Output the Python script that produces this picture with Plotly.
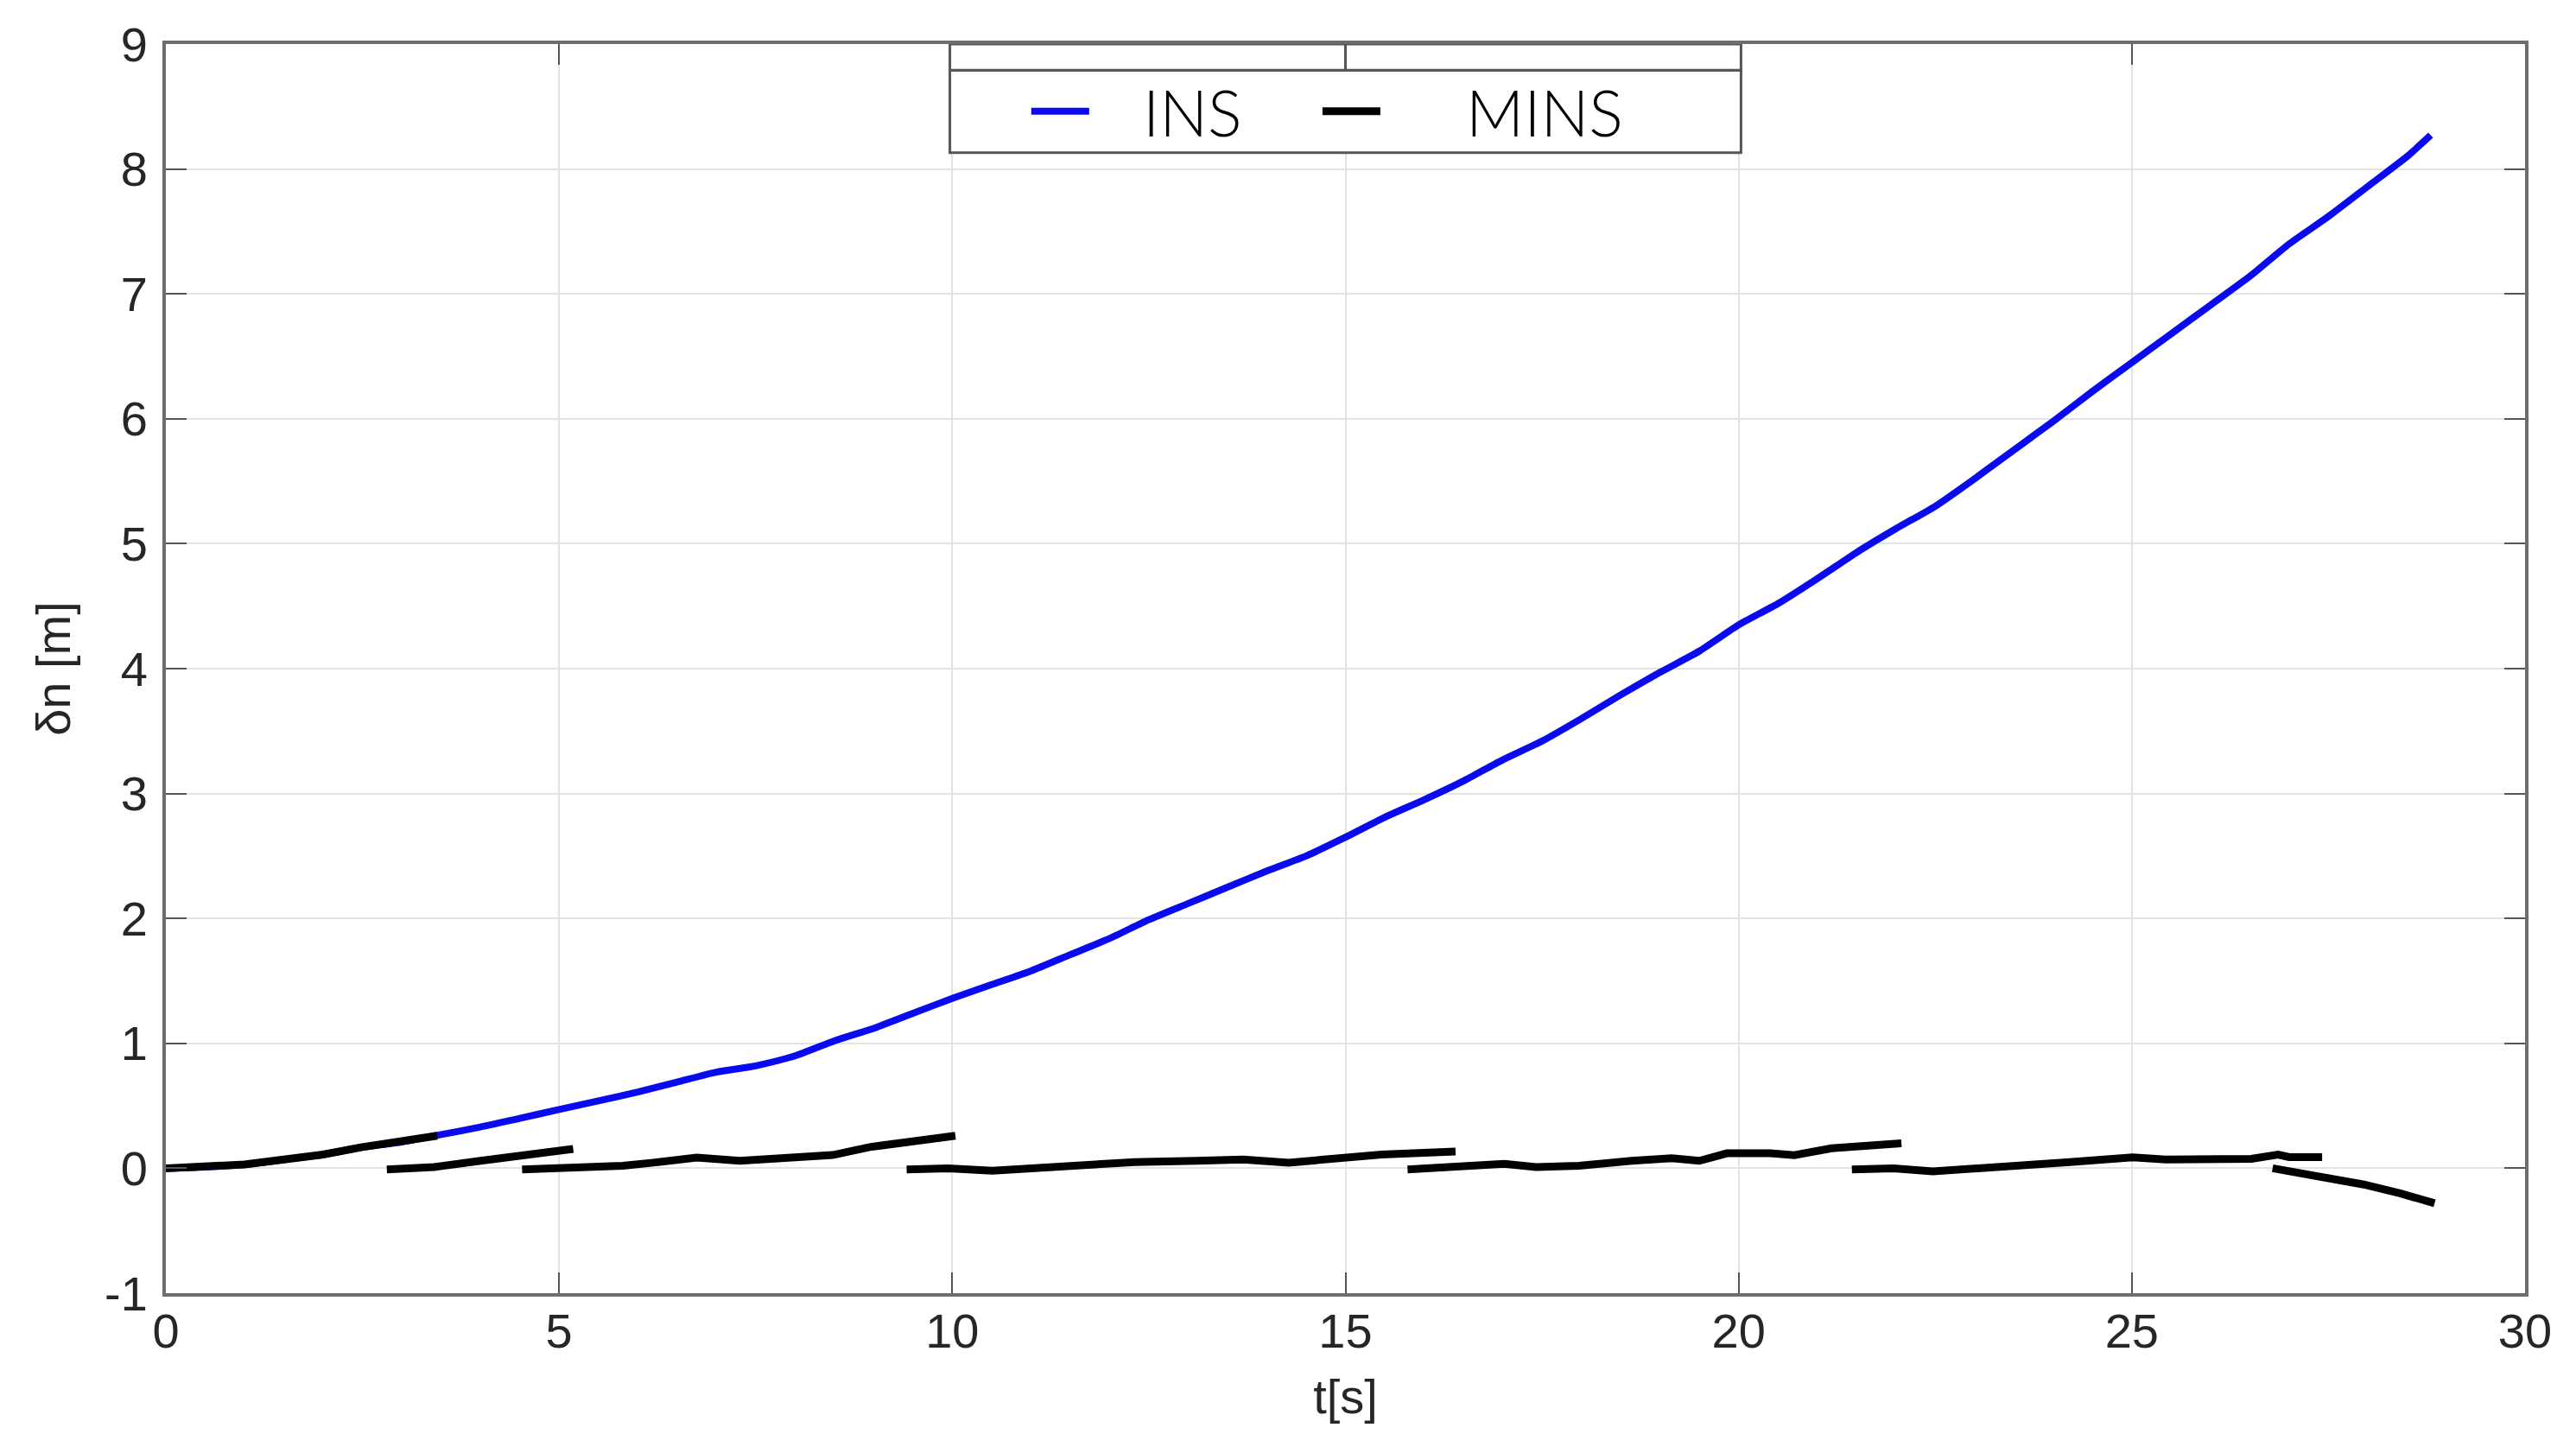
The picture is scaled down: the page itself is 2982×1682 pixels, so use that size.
import plotly.graph_objects as go

# ---------------- data ----------------
ins_t = [0, 0.5, 1, 1.5, 2, 2.5, 3, 3.5, 4, 4.5, 5, 5.5, 6, 6.5, 7, 7.5, 8, 8.5, 9, 9.5,
         10, 10.5, 11, 11.5, 12, 12.5, 13, 13.5, 14, 14.5, 15, 15.5, 16, 16.5, 17, 17.5,
         18, 18.5, 19, 19.5, 20, 20.5, 21, 21.5, 22, 22.5, 23, 23.5, 24, 24.5, 25, 25.5,
         26, 26.5, 27, 27.5, 28, 28.5, 28.8]
ins_v = [0, 0.01, 0.03, 0.07, 0.11, 0.17, 0.21, 0.27, 0.33, 0.40, 0.47, 0.54, 0.61, 0.69,
         0.77, 0.82, 0.90, 1.02, 1.12, 1.24, 1.36, 1.47, 1.58, 1.71, 1.84, 1.99, 2.12, 2.25,
         2.38, 2.50, 2.65, 2.81, 2.95, 3.10, 3.27, 3.42, 3.60, 3.79, 3.97, 4.14, 4.35, 4.52,
         4.72, 4.93, 5.12, 5.30, 5.52, 5.75, 5.98, 6.22, 6.45, 6.68, 6.91, 7.14, 7.40, 7.62,
         7.86, 8.10, 8.27]

seg1_t = [0, 0.5, 1, 1.5, 2, 2.5, 3, 3.45]
seg1_v = [0, 0.01, 0.03, 0.07, 0.11, 0.17, 0.21, 0.26]
seg2_t = [2.81, 3.41, 4.0, 4.59, 5.18]
seg2_v = [-0.01, 0.01, 0.06, 0.11, 0.155]
seg3_t = [4.53, 4.98, 5.57, 5.81, 6.2, 6.75, 7.3, 7.77, 8.48, 8.95, 9.53, 10.04]
seg3_v = [-0.01, 0.0, 0.01, 0.02, 0.045, 0.085, 0.06, 0.077, 0.106, 0.17, 0.22, 0.26]
seg4_t = [9.42, 9.95, 10.51, 11.1, 11.74, 12.32, 13.1, 13.7, 14.28, 14.87, 15.46, 16.4]
seg4_v = [-0.01, 0.0, -0.02, 0.0, 0.02, 0.05, 0.06, 0.07, 0.045, 0.08, 0.11, 0.135]
seg5_t = [15.79, 16.44, 17.02, 17.42, 17.97, 18.64, 19.15, 19.5, 19.85, 20.4, 20.71, 21.18, 22.07]
seg5_v = [-0.01, 0.01, 0.035, 0.01, 0.02, 0.06, 0.08, 0.06, 0.12, 0.12, 0.105, 0.16, 0.2]
seg6_t = [21.44, 21.97, 22.47, 23.14, 23.8, 24.21, 25.01, 25.43, 26.52, 26.86, 27.0, 27.42]
seg6_v = [-0.01, 0.0, -0.025, 0.0, 0.035, 0.05, 0.087, 0.07, 0.075, 0.11, 0.09, 0.09]
seg7_t = [26.79, 27.36, 27.95, 28.41, 28.85]
seg7_v = [0.0, -0.066, -0.13, -0.2, -0.28]

x_ticks = [0, 5, 10, 15, 20, 25, 30]
y_ticks = [-1, 0, 1, 2, 3, 4, 5, 6, 7, 8, 9]

segments = [(seg1_t, seg1_v), (seg2_t, seg2_v), (seg3_t, seg3_v), (seg4_t, seg4_v),
            (seg5_t, seg5_v), (seg6_t, seg6_v), (seg7_t, seg7_v)]
mins_t, mins_v = [], []
for st, sv in segments:
    mins_t += st + [None]
    mins_v += sv + [None]

# ---------------- figure ----------------
fig = go.Figure()
fig.add_trace(go.Scatter(x=ins_t, y=ins_v, mode="lines",
                         name="\u2002\u00a0INS\u2002\u2002\u2009",
                         line=dict(color="#0a0af0", width=8, shape="spline", smoothing=0.6)))
fig.add_trace(go.Scatter(x=mins_t, y=mins_v, mode="lines",
                         name="\u2002\u2002\u00a0MINS",
                         line=dict(color="#000000", width=9), connectgaps=False))

tfont = dict(family="Liberation Sans, Arial", size=56, color="#262626")
axis_common = dict(
    showgrid=True, gridcolor="#e3e3e3", gridwidth=2,
    showline=True, linecolor="#6e6e6e", linewidth=4, mirror="ticks",
    ticks="inside", ticklen=24, tickwidth=2, tickcolor="#555555",
    tickfont=tfont, zeroline=False,
)

fig.update_layout(
    width=2982, height=1682,
    margin=dict(l=184, r=67, t=41, b=193),
    paper_bgcolor="white", plot_bgcolor="white",
    xaxis=dict(range=[0, 30], tickvals=x_ticks, ticktext=[str(v) for v in x_ticks],
               ticklabelstandoff=-8,
               title=dict(text="t[s]", font=tfont, standoff=27),
               **axis_common),
    yaxis=dict(range=[-1, 9], tickvals=y_ticks, ticktext=[str(v) for v in y_ticks],
               ticklabelstandoff=6,
               title=dict(text="δn [m]", font=tfont, standoff=22),
               **axis_common),
    showlegend=True,
    legend=dict(orientation="h", x=0.365, y=0.946, xanchor="left", yanchor="middle",
                bgcolor="rgba(0,0,0,0)", borderwidth=0,
                font=dict(family="Lato", size=74, color="#000000", weight=300),
                itemwidth=67),
    shapes=[
        # legend frame
        dict(type="rect", xref="x", yref="y", x0=9.97, x1=20.03, y0=8.13, y1=8.79,
             line=dict(color="#555555", width=3), fillcolor="white", layer="above"),
        # empty box above legend
        dict(type="rect", xref="x", yref="y", x0=9.97, x1=20.03, y0=8.79, y1=9.0,
             line=dict(color="#555555", width=3), fillcolor="white", layer="above"),
        dict(type="line", xref="x", yref="y", x0=15, x1=15, y0=8.79, y1=9.0,
             line=dict(color="#555555", width=3), layer="above"),
    ],
)

fig.write_html("out.html")
